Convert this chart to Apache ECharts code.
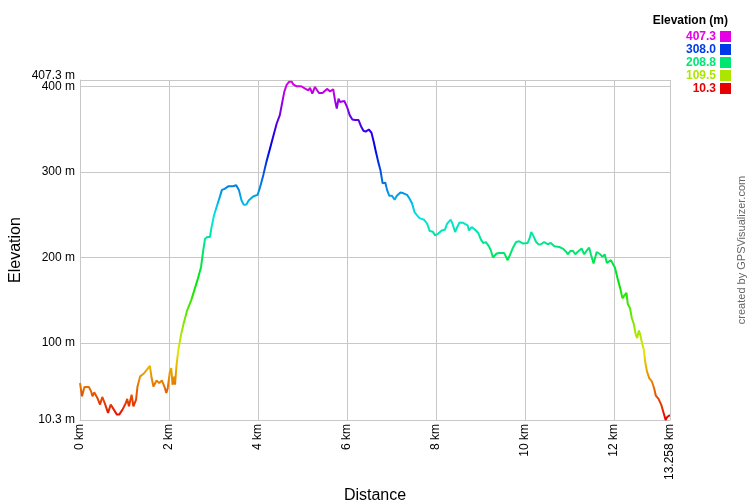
<!DOCTYPE html>
<html><head><meta charset="utf-8">
<script src="https://cdn.jsdelivr.net/npm/echarts@6/dist/echarts.min.js"></script>
<style>html,body{margin:0;padding:0;background:#fff}#c{width:750px;height:500px}</style>
</head><body><div id="c"></div>
<script>
// Distance along track (km)
const distKm = [
0,0.045,0.10,0.20,0.25,0.28,0.32,0.39,0.45,0.50,0.56,0.63,0.69,0.75,0.83,0.88,0.955,1.03,1.06,1.10,1.16,1.20,1.26,1.29,1.35,1.43,1.47,1.53,1.57,1.61,1.65,1.72,1.78,1.84,1.90,1.94,1.97,2.02,2.05,2.08,2.12,2.135,
2.17,2.21,2.27,2.33,2.41,2.50,2.57,2.65,2.72,2.77,2.81,2.86,2.92,2.95,3.01,3.08,3.14,3.19,3.25,3.34,3.44,3.51,3.57,3.63,3.68,3.74,3.79,
3.89,3.99,4.04,4.12,4.19,4.27,4.34,4.42,4.49,4.54,4.59,4.64,4.70,4.72,4.76,4.79,4.87,4.97,5.00,5.06,5.13,5.17,5.22,5.28,5.32,5.37,5.45,5.55,5.62,5.69,5.73,5.77,5.81,5.84,5.88,5.94,6.00,6.06,6.12,6.18,6.26,6.32,6.37,6.42,6.49,6.55,6.60,6.64,6.70,6.75,6.80,6.86,6.90,6.95,7.01,7.07,7.12,7.20,7.27,7.35,7.40,7.46,7.52,7.58,7.63,
7.73,7.80,7.86,7.93,7.98,8.05,8.13,8.20,8.25,8.33,8.37,8.43,8.48,8.53,8.61,8.65,8.71,8.74,8.80,8.88,8.95,9.01,9.06,9.12,9.19,9.23,9.28,9.36,9.42,9.53,9.61,9.66,9.72,9.80,9.87,9.96,10.06,10.10,10.14,10.19,10.25,10.31,10.36,10.43,10.51,10.58,10.66,10.77,10.85,10.93,10.96,11.02,11.08,11.13,11.18,
11.27,11.33,11.38,11.44,11.48,11.54,11.57,11.61,11.69,11.74,11.79,11.84,11.93,11.96,12.02,12.08,12.14,12.19,12.24,12.28,12.31,12.36,12.40,12.44,12.49,12.52,12.56,12.59,12.63,12.67,12.70,12.74,12.79,12.85,12.90,12.94,13.00,13.06,13.11,13.16,13.19,13.24,13.258
];
// Elevation (m)
const elevM = [
53.5,38,48.8,48.8,43.7,38,42.6,36,28.3,37.2,29.4,18.6,28.3,23.3,16.6,16.6,22.4,30.2,34.9,26.3,39.9,26.3,34.1,48.8,61.2,64.3,62,70.9,73.6,59.3,49.5,56.5,53.5,56.5,48.8,41.9,47,67,70.9,51.5,61.2,51.5,
74.8,92.2,109.7,123.3,138.7,150.3,162,175.6,189,208.5,222,224,224,233.7,249,260.8,270.5,279,280.2,283.3,283.3,284.4,279,266.6,261.6,262,266.6,
271.3,273.2,281,296.5,312,327.4,341,356.5,366.3,379.8,393.4,401.2,405.3,407.3,405.3,402.3,400,400,402.3,397.2,395.3,398,391.4,399.2,397.2,392.2,392.2,396.9,394,396.5,383.7,374,385.6,381.7,382.8,382.8,376,366.3,361.2,360.5,360.5,352.7,348,347,349.5,345.7,335.2,325.6,312,302.3,286.7,287.5,279,272.1,272.1,267.4,272.1,276,275,273.2,269.3,263.5,252.7,248.8,246,
244.2,239.5,230.9,230,225.9,228,231.7,232.5,239.5,244.2,239.5,229.8,236,241,240.5,242.6,237.6,231.7,235.6,232.5,228.6,220.9,217,218,213.1,208.5,200,204.7,205.4,205.4,196.9,202.7,210.5,218.1,218.9,216.3,217,222,229.8,225,218.1,215.1,215.5,218.1,215.5,217,213.1,212.3,210.5,206.5,203.8,207.7,207.7,203.8,206.5,
210.5,203.8,207.7,211.6,203.8,193,195,206.5,203.8,200.7,203.8,193.7,196.9,196,188.4,175.6,164,152.3,156.2,158.8,145.7,140.7,129.1,123.3,109.7,106,114.7,109.7,100,92.2,78.6,67,59.3,55.3,47.7,38.7,34.9,28.3,19.3,10.3,13.5,15.5,15.5
];
const yGridValues = [10.3, 100, 200, 300, 400, 407.3];
const yLabelValues = [10.3, 100, 200, 300, 400];
const yTopLabelValues = [407.3];
const legendValues = [407.3, 308.0, 208.8, 109.5, 10.3];
const elevMin = 10.3, elevMax = 407.3, distMax = 13.258;

const FONT = "'Liberation Sans', Arial, sans-serif";

function hsv(h, s, v) {
  const c = v * s, x = c * (1 - Math.abs((h / 60) % 2 - 1)), m = v - c;
  let r, g, b;
  if (h < 60) [r, g, b] = [c, x, 0];
  else if (h < 120) [r, g, b] = [x, c, 0];
  else if (h < 180) [r, g, b] = [0, c, x];
  else if (h < 240) [r, g, b] = [0, x, c];
  else if (h < 300) [r, g, b] = [x, 0, c];
  else [r, g, b] = [c, 0, x];
  const hx = n => Math.round((n + m) * 255).toString(16).padStart(2, '0');
  return '#' + hx(r) + hx(g) + hx(b);
}
function colorFor(e) {
  const t = (e - elevMin) / (elevMax - elevMin);
  return hsv(Math.min(299.9, 300 * t), 1, 0.9);
}
const stops = [];
for (let i = 0; i <= 30; i++) stops.push(hsv(Math.min(299.9, 10 * i), 1, 0.9));

const data = distKm.map((d, i) => [d, elevM[i]]);

const graphic = [{
  type: 'text', x: 728, y: 21,
  style: { text: 'Elevation (m)', font: 'bold 12px ' + FONT, fill: '#000', align: 'right', verticalAlign: 'middle' }
}];
legendValues.forEach((v, i) => {
  const yc = 36.5 + i * 13;
  graphic.push({
    type: 'text', x: 716, y: yc,
    style: { text: v.toFixed(1), font: 'bold 12px ' + FONT, fill: colorFor(v), align: 'right', verticalAlign: 'middle' }
  });
  graphic.push({
    type: 'rect', shape: { x: 720, y: yc - 5.5, width: 11, height: 11 },
    style: { fill: colorFor(v) }
  });
});
graphic.push({
  type: 'text', x: 742, y: 250, rotation: Math.PI / 2,
  style: { text: 'created by GPSVisualizer.com', font: '11px ' + FONT, fill: '#666', align: 'center', verticalAlign: 'middle' }
});

const labelBase = { margin: 5, color: '#000', fontSize: 12, fontFamily: FONT, hideOverlap: false,
  showMinLabel: true, showMaxLabel: true, formatter: v => v + ' m' };

const chart = echarts.init(document.getElementById('c'), null, { renderer: 'canvas' });
chart.setOption({
  animation: false,
  backgroundColor: '#fff',
  textStyle: { fontFamily: FONT },
  grid: { left: 80, right: 80, top: 80, bottom: 80, containLabel: false, outerBoundsMode: 'none' },
  xAxis: {
    type: 'value', min: 0, max: distMax, interval: 2,
    axisLine: { show: true, lineStyle: { color: '#c8c8c8', width: 1 } },
    axisTick: { show: false },
    splitLine: { show: true, lineStyle: { color: '#c8c8c8', width: 1 } },
    axisLabel: { rotate: 90, margin: 4, color: '#000', fontSize: 12, fontFamily: FONT, hideOverlap: false,
      showMinLabel: true, showMaxLabel: true, formatter: v => v + ' km' },
    name: 'Distance', nameLocation: 'middle', nameGap: 59,
    nameTextStyle: { fontSize: 16, color: '#000', fontFamily: FONT }
  },
  yAxis: [{
    type: 'value', min: elevMin, max: elevMax,
    axisLine: { show: true, lineStyle: { color: '#c8c8c8', width: 1 } },
    axisTick: { show: false, customValues: yGridValues },
    splitLine: { show: true, lineStyle: { color: '#c8c8c8', width: 1 } },
    axisLabel: Object.assign({ customValues: yLabelValues }, labelBase),
    name: 'Elevation', nameLocation: 'middle', nameGap: 56,
    nameTextStyle: { fontSize: 16, color: '#000', fontFamily: FONT }
  }, {
    type: 'value', min: elevMin, max: elevMax, position: 'left', offset: 0,
    axisLine: { show: false }, axisTick: { show: false, customValues: yTopLabelValues },
    splitLine: { show: false },
    axisLabel: Object.assign({ customValues: yTopLabelValues, verticalAlign: 'bottom', padding: [0, 0, -2, 0] }, labelBase)
  }],
  visualMap: {
    show: false, type: 'continuous', dimension: 1, seriesIndex: 0,
    min: elevMin, max: elevMax, inRange: { color: stops }
  },
  series: [{
    type: 'line', data: data, showSymbol: false, symbol: 'none', yAxisIndex: 0,
    lineStyle: { width: 2 }, smooth: false
  }],
  graphic: graphic
});
</script></body></html>
